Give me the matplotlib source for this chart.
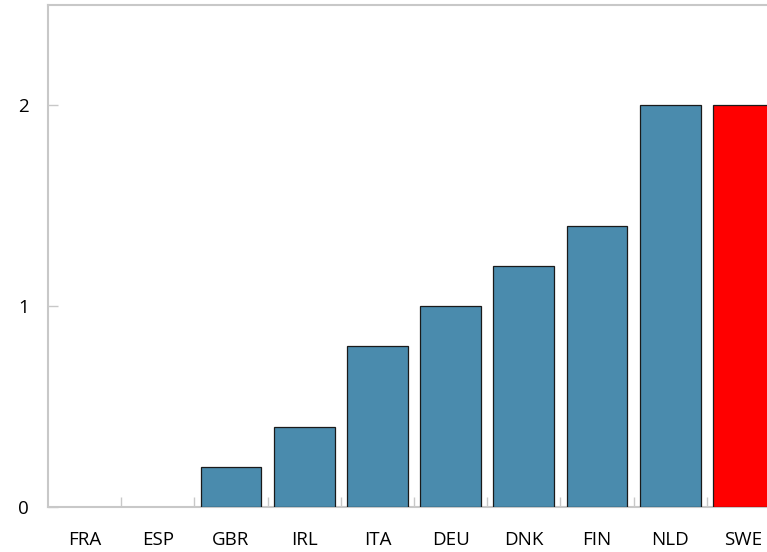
import matplotlib.pyplot as plt

# ---------------- Data ----------------
countries = ['FRA', 'ESP', 'GBR', 'IRL', 'ITA', 'DEU', 'DNK', 'FIN', 'NLD', 'SWE']
values = [0, 0, 0.2, 0.4, 0.8, 1.0, 1.2, 1.4, 2.0, 2.0]
highlight = 'SWE'

blue = '#4a8bad'
red = '#ff0000'
grey = '#c8c8c8'

plt.rcParams['font.family'] = ['Open Sans', 'DejaVu Sans']

fig = plt.figure(figsize=(7.67, 5.52), dpi=100)
# axes run past the right edge, as in the reference
ax = fig.add_axes([48 / 767, 45 / 552, 732 / 767, 502 / 552])

colors = [red if c == highlight else blue for c in countries]
edges = [0.9 if v > 0 else 0 for v in values]  # no outline on empty bars
x = list(range(len(countries)))
ax.bar(x, values, width=0.83, color=colors, edgecolor='#1a1a1a', linewidth=edges, zorder=3)

ax.set_xlim(-0.5, len(countries) - 0.5)
ax.set_ylim(0, 2.5)

ax.set_yticks([0, 1, 2])
ax.set_yticklabels(['0', '1', '2'])
ax.set_xticks(x)
ax.set_xticklabels(countries)
ax.set_xticks([i + 0.5 for i in x[:-1]], minor=True)

for s in ax.spines.values():
    s.set_color(grey)
    s.set_linewidth(1.5)

ax.tick_params(axis='y', direction='in', length=7, color=grey, width=1, pad=14, labelsize=13.5)
ax.tick_params(axis='x', which='major', length=0, pad=17.5, labelsize=13.5)
ax.tick_params(axis='x', which='minor', direction='in', length=7, color=grey, width=1)

fig.savefig('out.png', dpi=100)
